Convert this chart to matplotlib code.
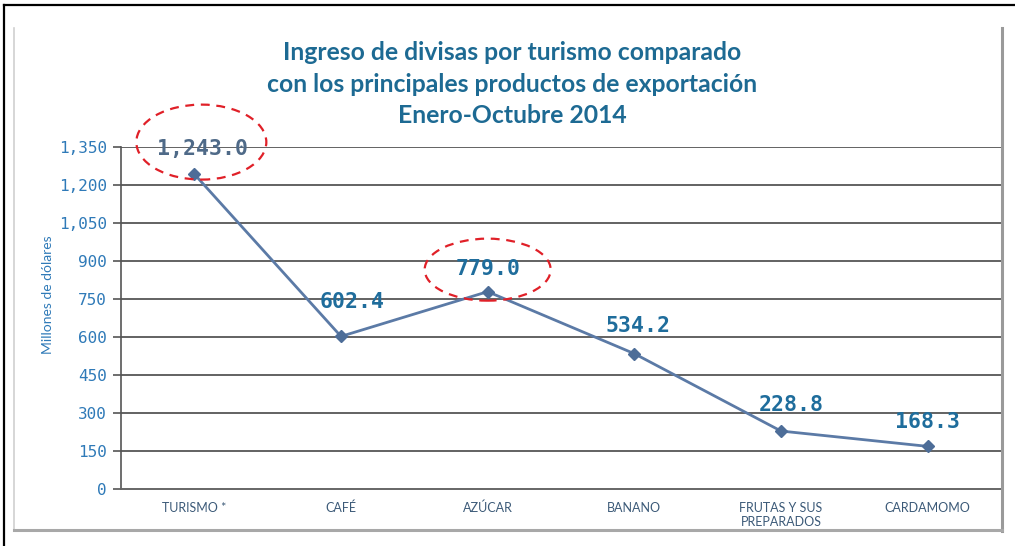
import matplotlib
matplotlib.use("Agg")
import matplotlib.pyplot as plt
from matplotlib.lines import Line2D
from matplotlib.patches import Ellipse
from matplotlib import font_manager

categories = ["TURISMO *", "CAFÉ", "AZÚCAR", "BANANO", "FRUTAS Y SUS\nPREPARADOS", "CARDAMOMO"]
values = [1243.0, 602.4, 779.0, 534.2, 228.8, 168.3]
value_labels = ["1,243.0", "602.4", "779.0", "534.2", "228.8", "168.3"]
yticks = [0, 150, 300, 450, 600, 750, 900, 1050, 1200, 1350]
ytick_labels = ["0", "150", "300", "450", "600", "750", "900", "1,050", "1,200", "1,350"]
highlighted = [0, 2]

label_offsets = [(8, 25), (11, 34), (0, 23), (4, 28), (10, 26), (0, 24)]

names = {f.name for f in font_manager.fontManager.ttflist}
narrow = "Liberation Sans Narrow" if "Liberation Sans Narrow" in names else "Lato"

W, H = 1015, 546
fig = plt.figure(figsize=(W / 100, H / 100), dpi=100)
fig.patch.set_facecolor("white")

def fx(x):
    return x / W

def fy(y):
    return 1 - y / H

# outer frame
fig.add_artist(Line2D([fx(4), fx(1015)], [fy(5), fy(5)], color="black", lw=1.6, transform=fig.transFigure))
fig.add_artist(Line2D([fx(4), fx(4)], [fy(5), fy(546)], color="black", lw=1.6, transform=fig.transFigure))
# inner panel
fig.add_artist(Line2D([fx(14), fx(14)], [fy(28), fy(530)], color="#d0d0d0", lw=1.2, transform=fig.transFigure))
fig.add_artist(Line2D([fx(1002), fx(1002)], [fy(28), fy(531)], color="#9a9a9a", lw=2.2, transform=fig.transFigure))
fig.add_artist(Line2D([fx(14), fx(1002)], [fy(530), fy(530)], color="#a8a8a8", lw=2.2, transform=fig.transFigure))

ax = fig.add_axes([fx(121), fy(489), fx(1001) - fx(121), fy(147) - fy(489)])
x = list(range(len(categories)))
xc = [i + 0.5 for i in x]
ax.set_xlim(0, len(categories))
ax.set_ylim(0, 1350)

ax.set_yticks(yticks)
ax.set_yticklabels(ytick_labels, fontfamily="DejaVu Sans Mono", fontsize=11.5, color="#2f7ab8")
ax.set_xticks(xc)
ax.set_xticklabels(categories, fontfamily=narrow, fontsize=9, color="#3c5a78", linespacing=1.3)
ax.tick_params(axis="y", length=6, width=1.2, color="#555555", pad=4)
ax.tick_params(axis="x", length=0, pad=9)
for s in ["top", "right"]:
    ax.spines[s].set_visible(False)
ax.spines["left"].set_color("#555555")
ax.spines["left"].set_linewidth(1.2)
ax.spines["bottom"].set_color("#666666")
ax.spines["bottom"].set_linewidth(1.4)
for t in yticks[1:]:
    ax.axhline(t, color="#626262", lw=1.4, zorder=1)

ax.plot(xc, values, color="#5b7aa6", lw=2.0, marker="D", markersize=6.5,
        markerfacecolor="#4d6d98", markeredgecolor="#4d6d98", zorder=3, clip_on=False)

for i, (v, lab) in enumerate(zip(values, value_labels)):
    dx, dy = label_offsets[i]
    col = "#4f6a88" if i == 0 else "#1f6d9c"
    ax.annotate(lab, (xc[i], v), xytext=(dx, dy), textcoords="offset pixels",
                ha="center", va="center", fontfamily="DejaVu Sans Mono", fontweight="bold",
                fontsize=15.5, color=col, zorder=5, annotation_clip=False)

# red dashed ellipses around highlighted labels (sizes in pixels -> data)
xpp = len(categories) / 880.0
ypp = 1350 / 342.0
ell_specs = {0: (7, 32, 130, 75), 2: (0, 22, 126, 62)}
for i in highlighted:
    dx, dy, w, h = ell_specs[i]
    e = Ellipse((xc[i] + dx * xpp, values[i] + dy * ypp), w * xpp, h * ypp,
                fill=False, edgecolor="#e02028", lw=1.6, linestyle=(0, (4, 3)),
                clip_on=False, zorder=6)
    ax.add_patch(e)

fig.text(fx(48), fy(295), "Millones de dólares", rotation=90, ha="center", va="center",
         fontfamily=narrow, fontsize=10, color="#2f7ab8")

title = "Ingreso de divisas por turismo comparado\ncon los principales productos de exportación\nEnero-Octubre 2014"
fig.text(fx(512), fy(84), title, ha="center", va="center", fontfamily=narrow,
         fontsize=17.8, fontweight="bold", color="#1d6a93", linespacing=1.43)

fig.savefig("out.png", dpi=100)
